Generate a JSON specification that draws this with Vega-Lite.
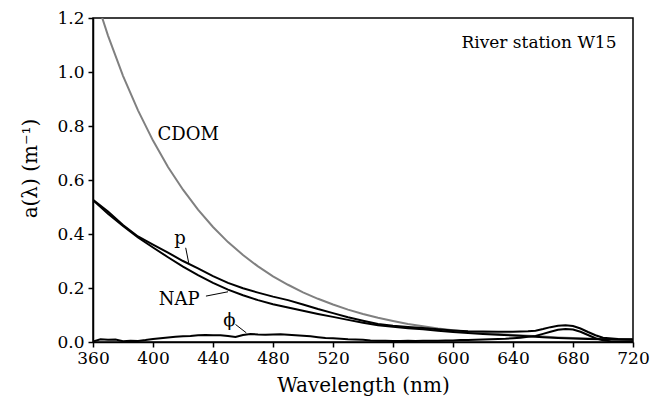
{
  "$schema": "https://vega.github.io/schema/vega-lite/v6.json",
  "width": 540,
  "height": 324,
  "autosize": {"type": "none"},
  "padding": {"left": 93, "top": 18, "right": 19, "bottom": 71},
  "background": "white",
  "config": {
    "font": "DejaVu Serif",
    "view": {"stroke": "black", "strokeWidth": 1.5},
    "text": {"font": "DejaVu Serif"},
    "axis": {
      "grid": false,
      "domainColor": "black",
      "domainWidth": 1.5,
      "tickColor": "black",
      "tickWidth": 1.5,
      "tickSize": 5,
      "labelFont": "DejaVu Serif",
      "labelFontSize": 17,
      "labelColor": "black",
      "labelFlush": false,
      "titleFont": "DejaVu Serif",
      "titleFontSize": 20,
      "titleFontWeight": "normal",
      "titleColor": "black"
    }
  },
  "datasets": {
    "curves": [
      {"wl": 360, "v": 1.305, "s": "CDOM"}, {"wl": 370, "v": 1.135, "s": "CDOM"}, {"wl": 380, "v": 0.986, "s": "CDOM"},
      {"wl": 390, "v": 0.858, "s": "CDOM"}, {"wl": 400, "v": 0.746, "s": "CDOM"}, {"wl": 410, "v": 0.648, "s": "CDOM"},
      {"wl": 420, "v": 0.564, "s": "CDOM"}, {"wl": 430, "v": 0.490, "s": "CDOM"}, {"wl": 440, "v": 0.426, "s": "CDOM"},
      {"wl": 450, "v": 0.370, "s": "CDOM"}, {"wl": 460, "v": 0.322, "s": "CDOM"}, {"wl": 470, "v": 0.280, "s": "CDOM"},
      {"wl": 480, "v": 0.243, "s": "CDOM"}, {"wl": 490, "v": 0.212, "s": "CDOM"}, {"wl": 500, "v": 0.184, "s": "CDOM"},
      {"wl": 510, "v": 0.160, "s": "CDOM"}, {"wl": 520, "v": 0.139, "s": "CDOM"}, {"wl": 530, "v": 0.120, "s": "CDOM"},
      {"wl": 540, "v": 0.104, "s": "CDOM"}, {"wl": 550, "v": 0.090, "s": "CDOM"}, {"wl": 560, "v": 0.078, "s": "CDOM"},
      {"wl": 570, "v": 0.067, "s": "CDOM"}, {"wl": 580, "v": 0.058, "s": "CDOM"}, {"wl": 590, "v": 0.050, "s": "CDOM"},
      {"wl": 600, "v": 0.044, "s": "CDOM"}, {"wl": 610, "v": 0.038, "s": "CDOM"}, {"wl": 620, "v": 0.034, "s": "CDOM"},
      {"wl": 630, "v": 0.030, "s": "CDOM"}, {"wl": 640, "v": 0.026, "s": "CDOM"}, {"wl": 650, "v": 0.023, "s": "CDOM"},
      {"wl": 660, "v": 0.020, "s": "CDOM"}, {"wl": 670, "v": 0.017, "s": "CDOM"}, {"wl": 680, "v": 0.015, "s": "CDOM"},
      {"wl": 690, "v": 0.013, "s": "CDOM"}, {"wl": 700, "v": 0.011, "s": "CDOM"}, {"wl": 710, "v": 0.010, "s": "CDOM"},
      {"wl": 720, "v": 0.009, "s": "CDOM"},

      {"wl": 360, "v": 0.525, "s": "NAP"}, {"wl": 370, "v": 0.475, "s": "NAP"}, {"wl": 380, "v": 0.430, "s": "NAP"},
      {"wl": 390, "v": 0.387, "s": "NAP"}, {"wl": 400, "v": 0.350, "s": "NAP"}, {"wl": 410, "v": 0.314, "s": "NAP"},
      {"wl": 420, "v": 0.279, "s": "NAP"}, {"wl": 430, "v": 0.248, "s": "NAP"}, {"wl": 440, "v": 0.219, "s": "NAP"},
      {"wl": 450, "v": 0.194, "s": "NAP"}, {"wl": 460, "v": 0.173, "s": "NAP"}, {"wl": 470, "v": 0.155, "s": "NAP"},
      {"wl": 480, "v": 0.140, "s": "NAP"}, {"wl": 490, "v": 0.128, "s": "NAP"}, {"wl": 500, "v": 0.116, "s": "NAP"},
      {"wl": 510, "v": 0.104, "s": "NAP"}, {"wl": 520, "v": 0.093, "s": "NAP"}, {"wl": 530, "v": 0.082, "s": "NAP"},
      {"wl": 540, "v": 0.071, "s": "NAP"}, {"wl": 550, "v": 0.062, "s": "NAP"}, {"wl": 560, "v": 0.056, "s": "NAP"},
      {"wl": 570, "v": 0.051, "s": "NAP"}, {"wl": 580, "v": 0.047, "s": "NAP"}, {"wl": 590, "v": 0.042, "s": "NAP"},
      {"wl": 600, "v": 0.037, "s": "NAP"}, {"wl": 610, "v": 0.033, "s": "NAP"}, {"wl": 620, "v": 0.030, "s": "NAP"},
      {"wl": 630, "v": 0.027, "s": "NAP"}, {"wl": 640, "v": 0.024, "s": "NAP"}, {"wl": 650, "v": 0.021, "s": "NAP"},
      {"wl": 660, "v": 0.018, "s": "NAP"}, {"wl": 670, "v": 0.015, "s": "NAP"}, {"wl": 680, "v": 0.013, "s": "NAP"},
      {"wl": 690, "v": 0.011, "s": "NAP"}, {"wl": 700, "v": 0.010, "s": "NAP"}, {"wl": 710, "v": 0.009, "s": "NAP"},
      {"wl": 720, "v": 0.008, "s": "NAP"},

      {"wl": 360, "v": 0.527, "s": "p"}, {"wl": 370, "v": 0.483, "s": "p"}, {"wl": 380, "v": 0.433, "s": "p"},
      {"wl": 390, "v": 0.391, "s": "p"}, {"wl": 400, "v": 0.361, "s": "p"}, {"wl": 410, "v": 0.331, "s": "p"},
      {"wl": 420, "v": 0.300, "s": "p"}, {"wl": 430, "v": 0.273, "s": "p"}, {"wl": 440, "v": 0.244, "s": "p"},
      {"wl": 450, "v": 0.219, "s": "p"}, {"wl": 460, "v": 0.199, "s": "p"}, {"wl": 470, "v": 0.183, "s": "p"},
      {"wl": 480, "v": 0.168, "s": "p"}, {"wl": 490, "v": 0.155, "s": "p"}, {"wl": 500, "v": 0.139, "s": "p"},
      {"wl": 510, "v": 0.122, "s": "p"}, {"wl": 520, "v": 0.107, "s": "p"}, {"wl": 530, "v": 0.092, "s": "p"},
      {"wl": 540, "v": 0.079, "s": "p"}, {"wl": 550, "v": 0.067, "s": "p"}, {"wl": 560, "v": 0.060, "s": "p"},
      {"wl": 570, "v": 0.056, "s": "p"}, {"wl": 580, "v": 0.052, "s": "p"}, {"wl": 590, "v": 0.047, "s": "p"},
      {"wl": 600, "v": 0.043, "s": "p"}, {"wl": 610, "v": 0.040, "s": "p"}, {"wl": 620, "v": 0.039, "s": "p"},
      {"wl": 630, "v": 0.038, "s": "p"}, {"wl": 640, "v": 0.038, "s": "p"}, {"wl": 650, "v": 0.040, "s": "p"},
      {"wl": 655, "v": 0.042, "s": "p"}, {"wl": 660, "v": 0.048, "s": "p"}, {"wl": 665, "v": 0.055, "s": "p"},
      {"wl": 670, "v": 0.060, "s": "p"}, {"wl": 675, "v": 0.062, "s": "p"}, {"wl": 680, "v": 0.059, "s": "p"},
      {"wl": 685, "v": 0.050, "s": "p"}, {"wl": 690, "v": 0.037, "s": "p"}, {"wl": 695, "v": 0.025, "s": "p"},
      {"wl": 700, "v": 0.016, "s": "p"}, {"wl": 710, "v": 0.011, "s": "p"}, {"wl": 720, "v": 0.010, "s": "p"},

      {"wl": 360, "v": 0.002, "s": "phi"}, {"wl": 365, "v": 0.010, "s": "phi"}, {"wl": 370, "v": 0.008, "s": "phi"},
      {"wl": 375, "v": 0.009, "s": "phi"}, {"wl": 380, "v": 0.003, "s": "phi"}, {"wl": 385, "v": 0.005, "s": "phi"},
      {"wl": 390, "v": 0.004, "s": "phi"}, {"wl": 395, "v": 0.007, "s": "phi"}, {"wl": 400, "v": 0.011, "s": "phi"},
      {"wl": 405, "v": 0.014, "s": "phi"}, {"wl": 410, "v": 0.017, "s": "phi"}, {"wl": 415, "v": 0.019, "s": "phi"},
      {"wl": 420, "v": 0.021, "s": "phi"}, {"wl": 425, "v": 0.022, "s": "phi"}, {"wl": 430, "v": 0.025, "s": "phi"},
      {"wl": 435, "v": 0.026, "s": "phi"}, {"wl": 440, "v": 0.025, "s": "phi"}, {"wl": 445, "v": 0.025, "s": "phi"},
      {"wl": 450, "v": 0.022, "s": "phi"}, {"wl": 455, "v": 0.019, "s": "phi"}, {"wl": 460, "v": 0.026, "s": "phi"},
      {"wl": 465, "v": 0.030, "s": "phi"}, {"wl": 470, "v": 0.028, "s": "phi"}, {"wl": 475, "v": 0.027, "s": "phi"},
      {"wl": 480, "v": 0.028, "s": "phi"}, {"wl": 485, "v": 0.029, "s": "phi"}, {"wl": 490, "v": 0.027, "s": "phi"},
      {"wl": 495, "v": 0.025, "s": "phi"}, {"wl": 500, "v": 0.023, "s": "phi"}, {"wl": 505, "v": 0.021, "s": "phi"},
      {"wl": 510, "v": 0.018, "s": "phi"}, {"wl": 515, "v": 0.015, "s": "phi"}, {"wl": 520, "v": 0.014, "s": "phi"},
      {"wl": 525, "v": 0.012, "s": "phi"}, {"wl": 530, "v": 0.010, "s": "phi"}, {"wl": 535, "v": 0.009, "s": "phi"},
      {"wl": 540, "v": 0.008, "s": "phi"}, {"wl": 545, "v": 0.006, "s": "phi"}, {"wl": 550, "v": 0.005, "s": "phi"},
      {"wl": 555, "v": 0.005, "s": "phi"}, {"wl": 560, "v": 0.004, "s": "phi"}, {"wl": 565, "v": 0.004, "s": "phi"},
      {"wl": 570, "v": 0.005, "s": "phi"}, {"wl": 575, "v": 0.004, "s": "phi"}, {"wl": 580, "v": 0.005, "s": "phi"},
      {"wl": 585, "v": 0.005, "s": "phi"}, {"wl": 590, "v": 0.005, "s": "phi"}, {"wl": 595, "v": 0.006, "s": "phi"},
      {"wl": 600, "v": 0.006, "s": "phi"}, {"wl": 605, "v": 0.007, "s": "phi"}, {"wl": 610, "v": 0.007, "s": "phi"},
      {"wl": 615, "v": 0.008, "s": "phi"}, {"wl": 620, "v": 0.009, "s": "phi"}, {"wl": 625, "v": 0.010, "s": "phi"},
      {"wl": 630, "v": 0.011, "s": "phi"}, {"wl": 635, "v": 0.012, "s": "phi"}, {"wl": 640, "v": 0.014, "s": "phi"},
      {"wl": 645, "v": 0.016, "s": "phi"}, {"wl": 650, "v": 0.019, "s": "phi"}, {"wl": 655, "v": 0.022, "s": "phi"},
      {"wl": 660, "v": 0.030, "s": "phi"}, {"wl": 665, "v": 0.038, "s": "phi"}, {"wl": 670, "v": 0.045, "s": "phi"},
      {"wl": 675, "v": 0.048, "s": "phi"}, {"wl": 680, "v": 0.046, "s": "phi"}, {"wl": 685, "v": 0.038, "s": "phi"},
      {"wl": 690, "v": 0.026, "s": "phi"}, {"wl": 695, "v": 0.014, "s": "phi"}, {"wl": 700, "v": 0.006, "s": "phi"},
      {"wl": 705, "v": 0.003, "s": "phi"}, {"wl": 710, "v": 0.002, "s": "phi"}, {"wl": 715, "v": 0.002, "s": "phi"},
      {"wl": 720, "v": 0.002, "s": "phi"}
    ],
    "labels_left": [
      {"wl": 403, "v": 0.768, "t": "CDOM"}
    ],
    "labels_center": [
      {"wl": 418, "v": 0.38, "t": "p"},
      {"wl": 417.5, "v": 0.157, "t": "NAP"},
      {"wl": 451, "v": 0.077, "t": "ϕ"}
    ],
    "labels_right": [
      {"wl": 709, "v": 1.109, "t": "River station W15"}
    ],
    "leaders": [
      {"x1": 421.8, "y1": 0.349, "x2": 423.8, "y2": 0.293},
      {"x1": 435.3, "y1": 0.170, "x2": 450, "y2": 0.186},
      {"x1": 455, "y1": 0.065, "x2": 462.2, "y2": 0.034}
    ]
  },
  "layer": [
    {
      "data": {"name": "curves"},
      "mark": {"type": "line", "strokeWidth": 2, "clip": true},
      "encoding": {
        "x": {
          "field": "wl", "type": "quantitative",
          "scale": {"domain": [360, 720], "nice": false, "zero": false},
          "axis": {"values": [360, 400, 440, 480, 520, 560, 600, 640, 680, 720], "title": "Wavelength (nm)", "labelPadding": 3, "titleBaseline": "middle", "titleY": 43}
        },
        "y": {
          "field": "v", "type": "quantitative",
          "scale": {"domain": [0, 1.2], "nice": false},
          "axis": {"values": [0, 0.2, 0.4, 0.6, 0.8, 1.0, 1.2], "format": ".1f", "title": "a(λ) (m⁻¹)", "labelPadding": 4, "titleBaseline": "middle", "titleX": -63, "titleY": 150}
        },
        "detail": {"field": "s"},
        "color": {
          "field": "s", "type": "nominal",
          "scale": {"domain": ["CDOM", "NAP", "p", "phi"], "range": ["#808080", "black", "black", "black"]},
          "legend": null
        }
      }
    },
    {
      "data": {"name": "leaders"},
      "mark": {"type": "rule", "color": "black", "strokeWidth": 1},
      "encoding": {
        "x": {"field": "x1", "type": "quantitative"},
        "x2": {"field": "x2"},
        "y": {"field": "y1", "type": "quantitative"},
        "y2": {"field": "y2"}
      }
    },
    {
      "data": {"name": "labels_left"},
      "mark": {"type": "text", "fontSize": 18, "baseline": "middle", "align": "left", "color": "black"},
      "encoding": {
        "x": {"field": "wl", "type": "quantitative"},
        "y": {"field": "v", "type": "quantitative"},
        "text": {"field": "t"}
      }
    },
    {
      "data": {"name": "labels_center"},
      "mark": {"type": "text", "fontSize": 18, "baseline": "middle", "align": "center", "color": "black"},
      "encoding": {
        "x": {"field": "wl", "type": "quantitative"},
        "y": {"field": "v", "type": "quantitative"},
        "text": {"field": "t"}
      }
    },
    {
      "data": {"name": "labels_right"},
      "mark": {"type": "text", "fontSize": 17, "baseline": "middle", "align": "right", "color": "black"},
      "encoding": {
        "x": {"field": "wl", "type": "quantitative"},
        "y": {"field": "v", "type": "quantitative"},
        "text": {"field": "t"}
      }
    }
  ]
}
